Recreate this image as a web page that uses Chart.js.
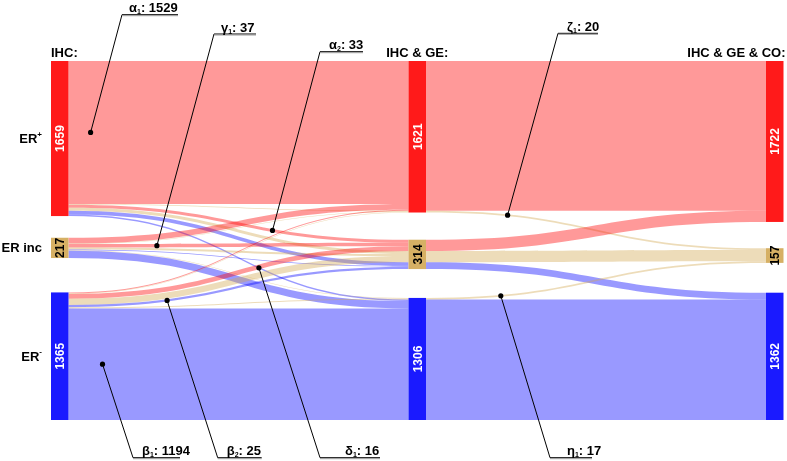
<!DOCTYPE html>
<html>
<head>
<meta charset="utf-8">
<script src="https://cdn.jsdelivr.net/npm/chart.js@4.4.1/dist/chart.umd.min.js"></script>
<style>
  html, body { margin: 0; padding: 0; background: #ffffff; }
  #c { display: block; }
</style>
</head>
<body>
<canvas id="c" width="787" height="461"></canvas>
<script>
// ---------------- DATA ----------------
const stageTitles = ['IHC:', 'IHC & GE:', 'IHC & GE & CO:'];
const categoryBase = ['ER', 'ER inc', 'ER'];
const categorySup = ['+', '', '-'];
// node totals per stage (rows: stage, cols: ER+, ER inc, ER-)
const totalsIHC = [1659, 217, 1365];
const totalsIHCGE = [1621, 314, 1306];
const totalsIHCGECO = [1722, 157, 1362];
// paths through all three stages (category indices: 0 ER+, 1 ER inc, 2 ER-)
const pathIHC   = [0, 0, 0, 0, 0, 0, 0, 1, 1, 1, 1, 1, 1, 1, 2, 2, 2, 2, 2, 2, 2];
const pathIHCGE = [0, 0, 1, 1, 1, 2, 2, 0, 0, 1, 1, 1, 2, 2, 0, 0, 1, 1, 1, 2, 2];
const pathFinal = [0, 1, 0, 1, 2, 1, 2, 0, 1, 0, 1, 2, 1, 2, 0, 1, 0, 1, 2, 1, 2];
const pathCount = [1529, 8, 33, 33, 38, 2, 16, 62, 6, 37, 20, 10, 3, 79, 10, 6, 51, 67, 25, 12, 1194];
// flows IHC & GE -> IHC & GE & CO
const flowFrom  = [0, 0, 1, 1, 1, 2, 2];
const flowTo    = [0, 1, 0, 1, 2, 1, 2];
const flowCount = [1601, 20, 121, 120, 73, 17, 1289];
// callouts: letter, subscript, which link (kind 0 = path, 1 = flow) and its index
const calloutLetter = ['α', 'γ', 'α', 'ζ', 'β', 'β', 'δ', 'η'];
const calloutSub    = ['1', '1', '2', '1', '1', '2', '1', '1'];
const calloutKind   = [0, 0, 0, 1, 0, 0, 0, 1];
const calloutIndex  = [0, 9, 2, 1, 20, 18, 6, 5];

// ---------------- LAYOUT / STYLE ----------------
const layout = {
  nodeWidth: 17.5,
  gaps: [[232, 368], [291, 309], [281, 319]],
  calloutAnchorX: [122, 214, 320, 558, 133, 217.7, 320, 550],
  calloutAnchorY: [14.7, 34, 51.7, 33.3, 457.7, 457.7, 457.7, 457.7],
  calloutTextDX:  [7, 7, 9, 9, 9, 9, 25, 17],
  calloutLineLen: [56, 42, 43, 40, 47, 44, 60, 42],
  calloutFrac:    [0.065, 0.26, 0.6, 0.24, 0.1, 0.29, 0.56, 0.22],
  rowLabelRight: 42,
  titleBaseline: 57
};
const style = {
  nodeColors: ['#ff1a1a', '#d6b064', '#1a1aff'],
  nodeText: ['#ffffff', '#000000', '#ffffff'],
  linkColors: ['rgba(255,0,0,0.40)', 'rgba(210,167,80,0.40)', 'rgba(0,0,255,0.40)'],
  font: "'Liberation Sans', Arial, Helvetica, sans-serif"
};

const stageTotals = [totalsIHC, totalsIHCGE, totalsIHCGECO];
const grand = totalsIHC.reduce((a, b) => a + b, 0);
const yMax = grand + layout.gaps[0][0] + layout.gaps[0][1];

function nodeStarts(s) {
  const t = stageTotals[s], g = layout.gaps[s];
  return [0, t[0] + g[0], t[0] + g[0] + t[1] + g[1]];
}

function bezX(t) { return 1.5 * t * (1 - t) + t * t * t; }
function bezY(t) { return 3 * t * t - 2 * t * t * t; }
function tForX(f) {
  let lo = 0, hi = 1;
  for (let i = 0; i < 40; i++) { const m = (lo + hi) / 2; if (bezX(m) < f) lo = m; else hi = m; }
  return (lo + hi) / 2;
}

const sankeyPlugin = {
  id: 'sankeyDraw',
  afterDraw(chart) {
    const ctx = chart.ctx;
    const xs = chart.scales.x, ys = chart.scales.y;
    const X = v => xs.getPixelForValue(v);
    const Y = v => ys.getPixelForValue(v);
    const W = layout.nodeWidth;
    const starts = [nodeStarts(0), nodeStarts(1), nodeStarts(2)];

    // slots for paths
    const n = pathCount.length;
    const p0 = new Array(n), p1 = new Array(n);
    const off0 = [0, 0, 0];
    for (let i = 0; i < n; i++) {
      const a = pathIHC[i];
      p0[i] = starts[0][a] + off0[a];
      off0[a] += pathCount[i];
    }
    const idxIn = [...Array(n).keys()].sort((i, j) =>
      (pathIHCGE[i] - pathIHCGE[j]) || (pathFinal[i] - pathFinal[j]) || (pathIHC[i] - pathIHC[j]));
    const off1 = [0, 0, 0];
    idxIn.forEach(i => {
      const b = pathIHCGE[i];
      p1[i] = starts[1][b] + off1[b];
      off1[b] += pathCount[i];
    });
    // slots for flows
    const m = flowCount.length;
    const f1 = new Array(m), f2 = new Array(m);
    const offO = [0, 0, 0];
    const idxO = [...Array(m).keys()].sort((i, j) => (flowFrom[i] - flowFrom[j]) || (flowTo[i] - flowTo[j]));
    idxO.forEach(i => { const b = flowFrom[i]; f1[i] = starts[1][b] + offO[b]; offO[b] += flowCount[i]; });
    const offI = [0, 0, 0];
    const idxI = [...Array(m).keys()].sort((i, j) => (flowTo[i] - flowTo[j]) || (flowFrom[i] - flowFrom[j]));
    idxI.forEach(i => { const c = flowTo[i]; f2[i] = starts[2][c] + offI[c]; offI[c] += flowCount[i]; });

    function band(x0, x1, a0, a1, v, color) {
      const ya = Y(a0), yb = Y(a0 + v), yc = Y(a1), yd = Y(a1 + v);
      const xm = (x0 + x1) / 2;
      ctx.beginPath();
      ctx.moveTo(x0, ya);
      ctx.bezierCurveTo(xm, ya, xm, yc, x1, yc);
      ctx.lineTo(x1, yd);
      ctx.bezierCurveTo(xm, yd, xm, yb, x0, yb);
      ctx.closePath();
      ctx.fillStyle = color;
      ctx.fill();
    }
    function bandPoint(x0, x1, a0, a1, v, frac) {
      const t = tForX(frac);
      const c0 = Y(a0 + v / 2), c1 = Y(a1 + v / 2);
      return [x0 + (x1 - x0) * bezX(t), c0 + (c1 - c0) * bezY(t)];
    }

    const x0r = X(0) + W, x1l = X(1), x1r = X(1) + W, x2l = X(2);
    ctx.save();
    for (let i = 0; i < n; i++) band(x0r, x1l, p0[i], p1[i], pathCount[i], style.linkColors[pathFinal[i]]);
    for (let i = 0; i < m; i++) band(x1r, x2l, f1[i], f2[i], flowCount[i], style.linkColors[flowTo[i]]);

    // nodes
    for (let s = 0; s < 3; s++) {
      for (let c = 0; c < 3; c++) {
        const top = Y(starts[s][c]), bot = Y(starts[s][c] + stageTotals[s][c]);
        const left = X(s);
        ctx.fillStyle = style.nodeColors[c];
        ctx.fillRect(left, top, W, bot - top);
        ctx.save();
        ctx.translate(left + W / 2, (top + bot) / 2);
        ctx.rotate(-Math.PI / 2);
        ctx.fillStyle = style.nodeText[c];
        ctx.font = 'bold 12px ' + style.font;
        ctx.textAlign = 'center';
        ctx.textBaseline = 'middle';
        ctx.fillText(String(stageTotals[s][c]), 0, 1);
        ctx.restore();
      }
    }

    // row labels
    ctx.fillStyle = '#000';
    ctx.textBaseline = 'middle';
    for (let c = 0; c < 3; c++) {
      const cy = (Y(starts[0][c]) + Y(starts[0][c] + stageTotals[0][c])) / 2;
      ctx.font = 'bold 13px ' + style.font;
      const wb = ctx.measureText(categoryBase[c]).width;
      ctx.font = 'bold 8px ' + style.font;
      const ws = categorySup[c] ? ctx.measureText(categorySup[c]).width : 0;
      const xStart = layout.rowLabelRight - wb - ws;
      ctx.font = 'bold 13px ' + style.font;
      ctx.textAlign = 'left';
      ctx.fillText(categoryBase[c], xStart, cy + 1);
      if (categorySup[c]) {
        ctx.font = 'bold 8px ' + style.font;
        ctx.fillText(categorySup[c], xStart + wb, cy - 4);
      }
    }

    // stage titles
    ctx.font = 'bold 13px ' + style.font;
    ctx.textBaseline = 'alphabetic';
    const aligns = ['left', 'center', 'right'];
    const tx = [X(0), X(1) + W / 2, X(2) + W + 2];
    for (let s = 0; s < 3; s++) {
      ctx.textAlign = aligns[s];
      ctx.fillText(stageTitles[s], tx[s], layout.titleBaseline);
    }

    // callouts
    for (let k = 0; k < calloutLetter.length; k++) {
      let pt, value;
      const i = calloutIndex[k];
      if (calloutKind[k] === 0) {
        pt = bandPoint(x0r, x1l, p0[i], p1[i], pathCount[i], layout.calloutFrac[k]);
        value = pathCount[i];
      } else {
        pt = bandPoint(x1r, x2l, f1[i], f2[i], flowCount[i], layout.calloutFrac[k]);
        value = flowCount[i];
      }
      const ax = layout.calloutAnchorX[k], ay = layout.calloutAnchorY[k];
      ctx.strokeStyle = '#000';
      ctx.lineWidth = 1;
      ctx.beginPath();
      ctx.moveTo(pt[0], pt[1]);
      ctx.lineTo(ax, ay);
      ctx.lineTo(ax + layout.calloutLineLen[k], ay);
      ctx.stroke();
      ctx.strokeStyle = '#9a9a9a';
      ctx.beginPath();
      ctx.moveTo(ax, ay + 1);
      ctx.lineTo(ax + layout.calloutLineLen[k], ay + 1);
      ctx.stroke();
      ctx.fillStyle = '#000';
      ctx.beginPath();
      ctx.arc(pt[0], pt[1], 2.6, 0, Math.PI * 2);
      ctx.fill();
      // text
      const by = ay - 2.5;
      let x = ax + layout.calloutTextDX[k];
      ctx.textAlign = 'left';
      ctx.textBaseline = 'alphabetic';
      ctx.font = 'bold 13px ' + style.font;
      ctx.fillText(calloutLetter[k], x, by);
      x += ctx.measureText(calloutLetter[k]).width;
      ctx.font = 'bold 7px ' + style.font;
      ctx.fillText(calloutSub[k], x, by + 2);
      x += ctx.measureText(calloutSub[k]).width;
      ctx.font = 'bold 13px ' + style.font;
      ctx.fillText(': ' + value, x, by);
    }
    ctx.restore();
  }
};

new Chart(document.getElementById('c'), {
  type: 'scatter',
  data: { datasets: [{ data: [], pointRadius: 0 }] },
  options: {
    responsive: false,
    animation: false,
    devicePixelRatio: 1,
    layout: { padding: { left: 51, right: 21, top: 61, bottom: 41 } },
    plugins: { legend: { display: false }, tooltip: { enabled: false }, title: { display: false } },
    scales: {
      x: { type: 'linear', min: 0, max: 2, display: false },
      y: { type: 'linear', min: 0, max: yMax, reverse: true, display: false }
    }
  },
  plugins: [sankeyPlugin]
});
</script>
</body>
</html>
